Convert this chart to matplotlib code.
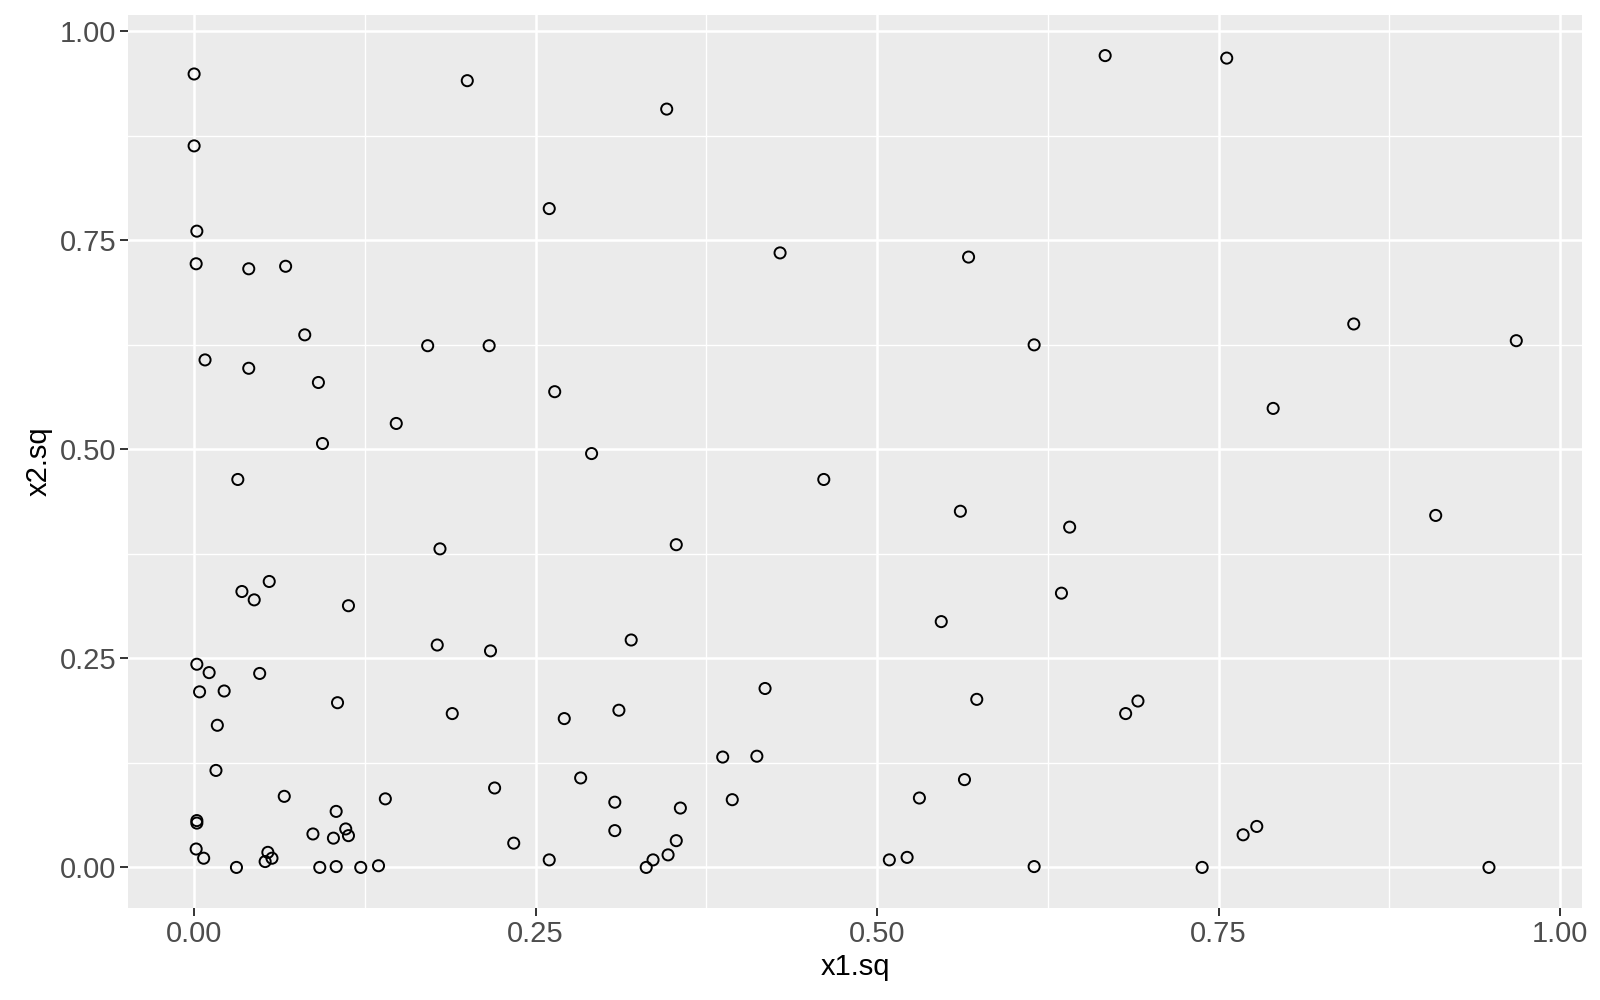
import numpy as np
import matplotlib.pyplot as plt

plt.rcParams['font.family'] = ['Liberation Sans', 'DejaVu Sans']

# values
x1_sq = [0.000, 0.000, 0.002, 0.0015, 0.040, 0.067, 0.200, 0.346, 0.667, 0.756,
         0.260, 0.429, 0.567, 0.081, 0.008, 0.040, 0.171, 0.216, 0.615, 0.849,
         0.968, 0.091, 0.264, 0.148, 0.790, 0.094, 0.291, 0.032, 0.461, 0.561,
         0.641, 0.909, 0.180, 0.353, 0.035, 0.055, 0.044, 0.113, 0.635, 0.547,
         0.178, 0.217, 0.320, 0.002, 0.011, 0.048, 0.004, 0.022, 0.418, 0.017,
         0.105, 0.189, 0.271, 0.311, 0.573, 0.682, 0.691, 0.016, 0.387, 0.412,
         0.283, 0.564, 0.066, 0.140, 0.220, 0.308, 0.394, 0.531, 0.002, 0.002,
         0.104, 0.356, 0.087, 0.102, 0.111, 0.113, 0.308, 0.234, 0.353, 0.768,
         0.778, 0.0015, 0.007, 0.054, 0.052, 0.057, 0.031, 0.092, 0.104, 0.122,
         0.135, 0.260, 0.331, 0.336, 0.347, 0.509, 0.522, 0.615, 0.738, 0.948]
x2_sq = [0.949, 0.863, 0.761, 0.722, 0.716, 0.719, 0.941, 0.907, 0.971, 0.968,
         0.788, 0.735, 0.730, 0.637, 0.607, 0.597, 0.624, 0.624, 0.625, 0.650,
         0.630, 0.580, 0.569, 0.531, 0.549, 0.507, 0.495, 0.464, 0.464, 0.426,
         0.407, 0.421, 0.381, 0.386, 0.330, 0.342, 0.320, 0.313, 0.328, 0.294,
         0.266, 0.259, 0.272, 0.243, 0.233, 0.232, 0.210, 0.211, 0.214, 0.170,
         0.197, 0.184, 0.178, 0.188, 0.201, 0.184, 0.199, 0.116, 0.132, 0.133,
         0.107, 0.105, 0.085, 0.082, 0.095, 0.078, 0.081, 0.083, 0.056, 0.053,
         0.067, 0.071, 0.040, 0.035, 0.046, 0.038, 0.044, 0.029, 0.032, 0.039,
         0.049, 0.022, 0.011, 0.018, 0.007, 0.011, 0.000, 0.000, 0.001, 0.000,
         0.002, 0.009, 0.000, 0.009, 0.015, 0.009, 0.012, 0.001, 0.000, 0.000]
ticks = [0.00, 0.25, 0.50, 0.75, 1.00]
tick_labels = ["0.00", "0.25", "0.50", "0.75", "1.00"]

fig = plt.figure(figsize=(16, 10), dpi=100)
ax = fig.add_axes([0.08, 0.092, 0.909, 0.893])
ax.set_facecolor("#EBEBEB")

# ggplot-like grid: minor lines halfway between majors
minor = [0.125, 0.375, 0.625, 0.875]
for v in minor:
    ax.axvline(v, color="white", lw=1.0, zorder=0)
    ax.axhline(v, color="white", lw=1.0, zorder=0)
for v in ticks:
    ax.axvline(v, color="white", lw=1.8, zorder=0)
    ax.axhline(v, color="white", lw=1.8, zorder=0)

ax.scatter(x1_sq, x2_sq, s=64, facecolors="none", edgecolors="black",
           linewidths=1.4, zorder=3)

# 5% expansion like ggplot
xr = max(x1_sq) - min(x1_sq)
yr = max(x2_sq) - min(x2_sq)
ax.set_xlim(min(x1_sq) - 0.05 * xr, max(x1_sq) + 0.05 * xr)
ax.set_ylim(min(x2_sq) - 0.05 * yr, max(x2_sq) + 0.05 * yr)

ax.set_xticks(ticks)
ax.set_xticklabels(tick_labels)
ax.set_yticks(ticks)
ax.set_yticklabels(tick_labels)
ax.tick_params(axis="both", length=5.5, width=1.4, color="#333333",
               labelcolor="#4D4D4D", labelsize=21, pad=3)

for s in ax.spines.values():
    s.set_visible(False)

ax.set_xlabel("x1.sq", fontsize=21, labelpad=4)
ax.set_ylabel("x2.sq", fontsize=21, labelpad=5)

fig.savefig("out.png", dpi=100, facecolor="white")
